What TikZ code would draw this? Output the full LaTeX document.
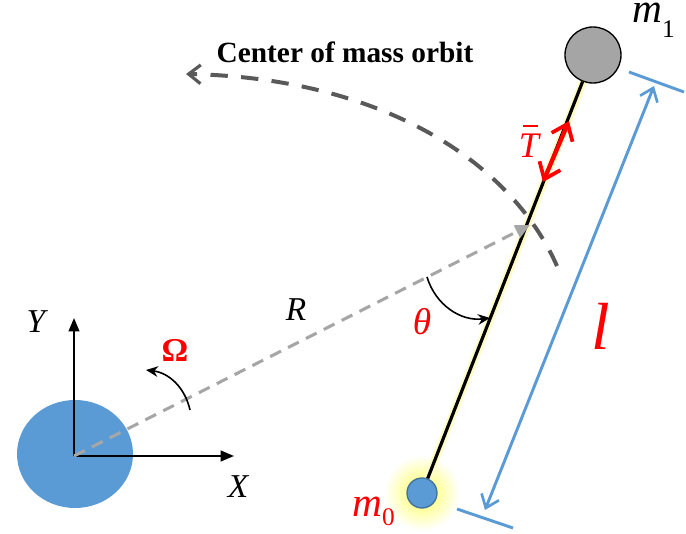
\documentclass[tikz,border=0pt]{standalone}
\usepackage{fontspec}
\setmainfont{Liberation Serif}[ItalicFont={Liberation Serif Italic},BoldFont={Liberation Serif Bold}]
\usetikzlibrary{arrows.meta,shapes.geometric}
\definecolor{eblue}{HTML}{5B9BD5}
\definecolor{dblue}{HTML}{41719C}
\definecolor{orbitgray}{HTML}{595959}
\definecolor{rgray}{HTML}{A6A6A6}
\definecolor{mgray}{HTML}{A5A5A5}
\newcommand{\fs}[1]{\fontsize{#1}{#1}\selectfont}
\begin{document}
\begin{tikzpicture}[x=0.75pt,y=-0.75pt,
  lbl/.style={inner sep=0pt,font=\fs{24}},
  redlbl/.style={lbl,text=red},
  axisarrow/.style={line width=1.5pt,-{Triangle[length=10pt,width=8pt]}},
  turnarrow/.style={line width=1.2pt,-{Stealth[length=9pt,width=8pt]}},
  dimline/.style={eblue,line width=2.2pt},
  barbred/.tip={Straight Barb[length=11pt,width=17pt,line width=2.8pt]},
  barbblue/.tip={Straight Barb[length=9pt,width=14pt,line width=2pt]},
  ]
\useasboundingbox (0,0) rectangle (686,534);
% glow
\shade[inner color=yellow!65,outer color=white,draw=none] (422,493) circle (38);
\coordinate (G1) at (424,488);
\coordinate (G2) at (587,72);
\draw[yellow!22,line width=6pt] (G1) -- (G2);
% earth
\node[ellipse,fill=eblue,draw=none,
      minimum width=87pt,minimum height=81pt,inner sep=0pt] (earth) at (75,454) {};
% masses
\node[circle,draw=black,line width=1pt,fill=mgray,minimum size=42pt,inner sep=0pt] (m1) at (593,55) {};
\node[circle,draw=dblue,line width=1pt,fill=eblue,minimum size=22.5pt,inner sep=0pt] (m0) at (422,493) {};
% rod
\draw[line width=2.4pt,black] (m0) -- (m1);
% axes
\coordinate (O) at (74,456);
\coordinate (Ytip) at (74,318);
\coordinate (Xtip) at (234,456);
\draw[axisarrow] (O) -- (Ytip);
\draw[axisarrow] (O) -- (Xtip);
\node[lbl,font=\fs{25}\itshape] (Ylab) at (36,322) {Y};
\node[lbl,font=\fs{25}\itshape] (Xlab) at (238,487) {X};
% R line
\coordinate (CM) at (530,225);
\draw[rgray,line width=2.3pt,dash pattern=on 9pt off 6pt,-{Triangle[length=11pt,width=10pt]}] (O) -- (CM);
\node[lbl,font=\fs{25}\itshape] (Rlab) at (296,310) {R};
% Omega
\coordinate (W1) at (190,410);
\coordinate (W2) at (146,370);
\draw[turnarrow] (W1) to[bend right=35] (W2);
\node[redlbl,font=\fs{25}\bfseries] (Wlab) at (175,350) {Ω};
% theta
\coordinate (T1) at (427,277);
\coordinate (T2) at (490,318);
\draw[turnarrow] (T1) to[bend right=40] (T2);
\node[redlbl,font=\fs{28}\itshape] (thlab) at (422,322) {θ};
% orbit
\coordinate (OB1) at (557,266);
\coordinate (OB2) at (186,74);
\draw[orbitgray,line width=3pt,dash pattern=on 13pt off 10pt,
      -{Straight Barb[length=9pt,width=14pt,line width=2.4pt]}]
  (OB1) .. controls (510,160) and (380,78) .. (OB2);
\node[lbl,font=\fs{22}\bfseries] (orblab) at (345,52) {Center of mass orbit};
% tension
\coordinate (TA) at (569,121);
\coordinate (TB) at (543,182);
\draw[red,line width=3.2pt,{barbred}-{barbred}] (TB) -- (TA);
\node[redlbl,font=\fs{27}\itshape,anchor=base] (Tlab) at (529,158)
  {\makebox[0pt][l]{\hspace{0.12em}\raisebox{0.86em}{\rule{0.42em}{0.05em}}}T};
% dimension
\coordinate (D1) at (485,510);
\coordinate (D2) at (654,86);
\coordinate (K1a) at (457,509);
\coordinate (K1b) at (513,528);
\coordinate (K2a) at (629,72);
\coordinate (K2b) at (684,92);
\draw[dimline] (K1a) -- (K1b);
\draw[dimline] (K2a) -- (K2b);
\draw[dimline,{barbblue}-{barbblue}] (D1) -- (D2);
\node[redlbl,font=\fs{50}\itshape] (llab) at (601,326) {l};
% mass labels
\node[lbl,anchor=base west] (m1lab) at (632,23) {\fs{31}\itshape m\raisebox{-0.34em}{\fs{19}\upshape 1}};
\node[lbl,anchor=base west,text=red] (m0lab) at (352,517) {\fs{31}\itshape m\raisebox{-0.2em}{\fs{19}\upshape 0}};
\end{tikzpicture}
\end{document}
